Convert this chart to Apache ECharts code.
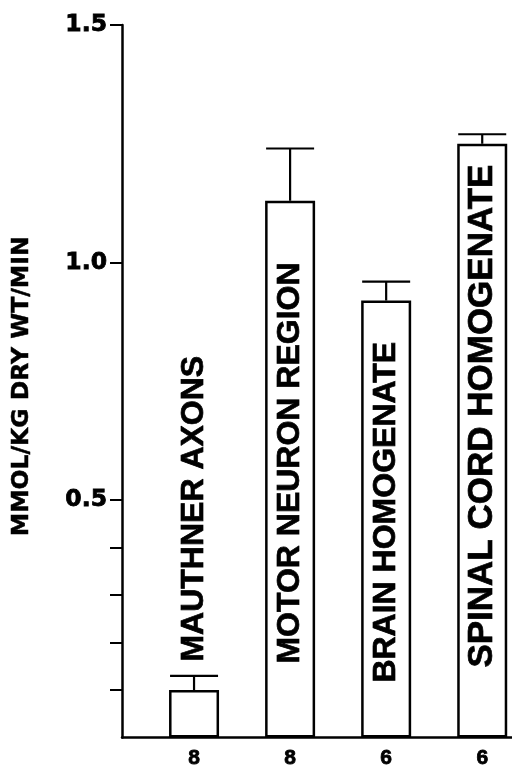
<!DOCTYPE html>
<html>
<head>
<meta charset="utf-8">
<script src="https://cdn.jsdelivr.net/npm/echarts@6/dist/echarts.min.js"></script>
<style>html,body{margin:0;padding:0;background:#fff}#c{width:512px;height:769px}</style>
</head>
<body>
<div id="c"></div>
<script>
var categories = ['MAUTHNER AXONS', 'MOTOR NEURON REGION', 'BRAIN HOMOGENATE', 'SPINAL CORD HOMOGENATE'];
var positions = [1, 2, 3, 4];
var values = [0.10, 1.13, 0.92, 1.25];
var errorTops = [0.13, 1.24, 0.96, 1.27];
var nLabels = ['8', '8', '6', '6'];
var yLabelValues = [0.5, 1.0, 1.5];
var yTickValues = [0.1, 0.2, 0.3, 0.4, 0.5, 1.0, 1.5];

var labelDistance = [76, 74, 55, 70];
var labelSize = [32, 32, 32, 35];

var chart = echarts.init(document.getElementById('c'));
var ink = '#000';

var barData = positions.map(function (p, i) {
  return {
    value: [p, values[i]],
    name: categories[i],
    label: { distance: labelDistance[i], fontSize: labelSize[i] }
  };
});
var errData = positions.map(function (p, i) { return [p, values[i], errorTops[i]]; });

chart.setOption({
  animation: false,
  grid: { left: 122, right: 0, top: 25, bottom: 21 },
  xAxis: {
    type: 'value', min: 0.25, max: 4.31,
    axisLine: { show: true, onZero: false, lineStyle: { color: ink, width: 2.5 } },
    axisTick: { show: false },
    splitLine: { show: false },
    axisLabel: {
      customValues: positions,
      formatter: function (v) { return nLabels[positions.indexOf(v)] || ''; },
      color: ink, fontFamily: 'Liberation Sans', fontWeight: 'bold', fontSize: 21, margin: 10,
      textBorderColor: ink, textBorderWidth: 0.8
    }
  },
  yAxis: {
    type: 'value', min: 0, max: 1.5,
    name: 'MMOL/KG DRY WT/MIN', nameLocation: 'middle', nameGap: 88,
    nameTextStyle: { color: ink, fontFamily: 'DejaVu Sans', fontWeight: 'bold', fontSize: 23.5,
      textBorderColor: ink, textBorderWidth: 0.5, padding: [0, 10, 0, 0] },
    axisLine: { show: true, lineStyle: { color: ink, width: 2.5 } },
    axisTick: { show: true, customValues: yTickValues, length: 12, lineStyle: { color: ink, width: 2 } },
    splitLine: { show: false },
    axisLabel: {
      customValues: yLabelValues,
      formatter: function (v) { return v.toFixed(1); },
      color: ink, fontFamily: 'DejaVu Sans', fontWeight: 'bold', fontSize: 23.5, margin: 15,
      textBorderColor: ink, textBorderWidth: 0.8
    }
  },
  series: [
    {
      type: 'bar', data: barData, barWidth: 50,
      itemStyle: { color: '#fff', borderColor: ink, borderWidth: 2.5 },
      label: {
        show: true, position: 'insideBottom', rotate: 90, align: 'left', verticalAlign: 'middle',
        formatter: '{b}', color: ink, fontFamily: 'Liberation Sans', fontWeight: 'bold',
        textBorderColor: ink, textBorderWidth: 0.7
      },
      z: 2
    },
    {
      type: 'custom', data: errData, z: 3,
      renderItem: function (params, api) {
        var x = api.value(0);
        var base = api.coord([x, api.value(1)]);
        var top = api.coord([x, api.value(2)]);
        var hw = 24;
        return {
          type: 'group',
          children: [
            { type: 'line', shape: { x1: base[0], y1: base[1], x2: top[0], y2: top[1] }, style: { stroke: ink, lineWidth: 2.2 } },
            { type: 'line', shape: { x1: top[0] - hw, y1: top[1], x2: top[0] + hw, y2: top[1] }, style: { stroke: ink, lineWidth: 2.2 } }
          ]
        };
      }
    }
  ]
});
</script>
</body>
</html>
